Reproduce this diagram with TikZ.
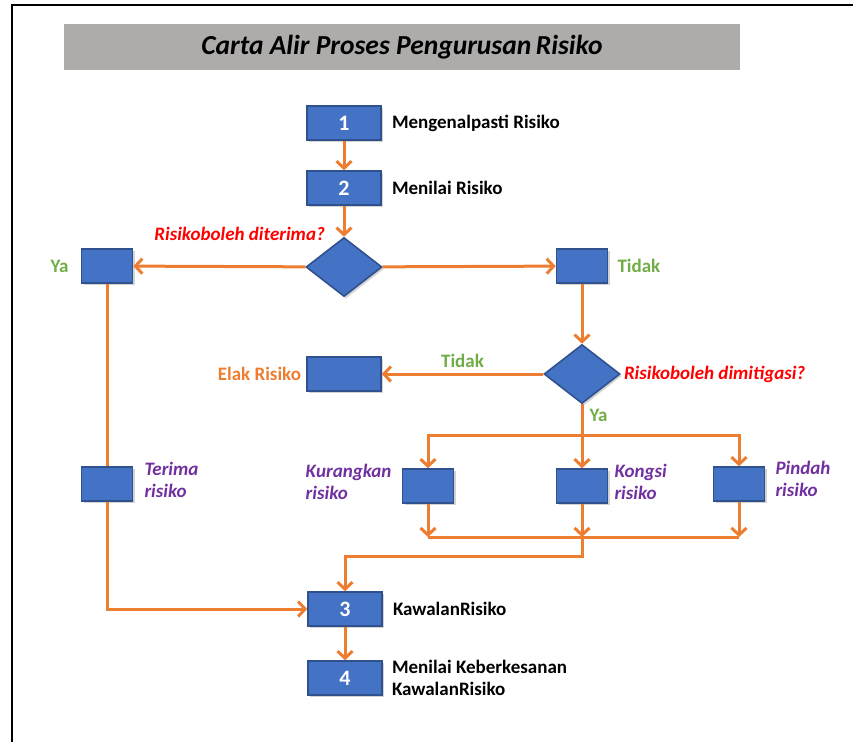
\documentclass[tikz,border=0pt]{standalone}
\usepackage{fontspec}
\setmainfont{Carlito}
\usetikzlibrary{arrows.meta,positioning,shapes.geometric,shadows}
\definecolor{kotakbiru}{HTML}{4472C4}
\definecolor{garisbiru}{HTML}{2F528F}
\definecolor{oren}{HTML}{ED7D31}
\definecolor{hijau}{HTML}{70AD47}
\definecolor{merah}{HTML}{FF0000}
\definecolor{ungu}{HTML}{7030A0}
\definecolor{kelabu}{HTML}{AEABAB}
\tikzset{
    %Define standard arrow tip
    >={Straight Barb[length=7pt,width=15pt]},
    %Define style for boxes
    langkah/.style={
           rectangle,
           draw=garisbiru, line width=1.6pt,
           fill=kotakbiru,
           minimum width=74pt,
           minimum height=34pt,
           inner sep=0pt,
           text=white,
           font=\fontsize{22}{22}\selectfont\bfseries,
           drop shadow={shadow xshift=2pt,shadow yshift=-2pt,opacity=0.35}
           },
    kotak/.style={
           langkah,
           minimum width=51pt,
           minimum height=34pt
           },
    soalan/.style={
           diamond,
           draw=garisbiru, line width=1.6pt,
           fill=kotakbiru,
           minimum width=76pt,
           minimum height=59pt,
           inner sep=0pt,
           drop shadow={shadow xshift=2pt,shadow yshift=-2pt,opacity=0.35}
           },
    teks/.style={
           font=\fontsize{19}{22}\selectfont\bfseries,
           align=left,
           inner sep=0pt
           },
    soal/.style={
           teks, text=merah,
           font=\fontsize{19}{22}\selectfont\bfseries\itshape
           },
    pilihan/.style={
           teks, text=ungu,
           font=\fontsize{19}{22}\selectfont\bfseries\itshape
           },
    % Define arrow style
    pil/.style={
           ->,
           draw=oren,
           line width=3pt},
    garis/.style={
           draw=oren,
           line width=3pt}
}
\begin{document}
\begin{tikzpicture}[x=1pt,y=-1pt,node distance=10pt,
  tajuk/.style={fill=kelabu,minimum width=676pt,minimum height=46pt,
    font=\fontsize{27.5}{27.5}\selectfont\bfseries\itshape}]
\useasboundingbox (0,0) rectangle (853,742);
\draw[line width=2.5pt] (12,742) |- (853,5);
\node[tajuk](tajuk) at (402,47){Carta Alir Proses Pengurusan\,Risiko};
% main steps
\node[langkah](1) at (344,123){1};
\node[langkah](2) at (344,188){2};
\node[soalan](q1) at (344,267){};
\node[kotak](ya) at (107,266){};
\node[kotak](tidak) at (582,266){};
\node[soalan](q2) at (582,374){};
\node[langkah](elak) at (344,374){};
\node[kotak](terima) at (107,484){};
\node[kotak](kurang) at (428,486){};
\node[kotak](kongsi) at (582,486){};
\node[kotak](pindah) at (739,484){};
\node[langkah](3) at (345,609){3};
\node[langkah](4) at (345,678){4};
% labels
\node[teks, right=10pt of 1](t1){Mengenalpasti Risiko};
\node[teks, right=10pt of 2](t2){Menilai Risiko};
\node[soal, left=19pt of q1.north, yshift=3pt](s1){Risikoboleh diterima?};
\node[teks, text=hijau, left=12pt of ya](tya){Ya};
\node[teks, text=hijau, right=9pt of tidak](ttidak){Tidak};
\node[soal, right=3pt of q2](s2){Risikoboleh dimitigasi?};
\node[teks, text=oren, left=5pt of elak](telak){Elak Risiko};
\node[pilihan, below right=-4pt and 11pt of terima.north east](tterima){Terima\\risiko};
\node[pilihan, below left=-4pt and 10pt of kurang.north west](tkurang){Kurangkan\\risiko};
\node[pilihan, below right=-4pt and 6pt of kongsi.north east](tkongsi){Kongsi\\risiko};
\node[pilihan, below right=-5pt and 10pt of pindah.north east](tpindah){Pindah\\risiko};
\node[teks, right=10pt of 3](t3){KawalanRisiko};
\node[teks, right=9pt of 4](t4){Menilai Keberkesanan\\KawalanRisiko};
% connectors
\coordinate (pecah) at (582,435);
\coordinate (gabung) at (582,537);
\coordinate (turun) at (345,556);
\path[pil]
	(1) edge (2)
	(2) edge (q1)
	(q1) edge (ya)
	(q1) edge (tidak)
	(tidak) edge (q2)
	(q2) edge node[teks, text=hijau, above=5pt]{Tidak} (elak)
	(3) edge (4);
\draw[garis] (q2) -- node[teks, text=hijau, pos=0.35, right=6pt]{Ya} (pecah);
\draw[pil] (pecah) -| (kurang);
\draw[pil] (pecah) -| (pindah);
\draw[pil] (pecah) -- (kongsi);
\draw[pil] (kurang) -- (kurang |- gabung);
\draw[pil] (kongsi) -- (gabung);
\draw[pil] (pindah) -- (pindah |- gabung);
\draw[garis] (kurang |- gabung) -- (pindah |- gabung);
\draw[pil] (gabung) |- (turun) -- (3);
\draw[garis] (ya) -- (terima);
\draw[pil] (terima) |- (3);
\end{tikzpicture}
\end{document}
